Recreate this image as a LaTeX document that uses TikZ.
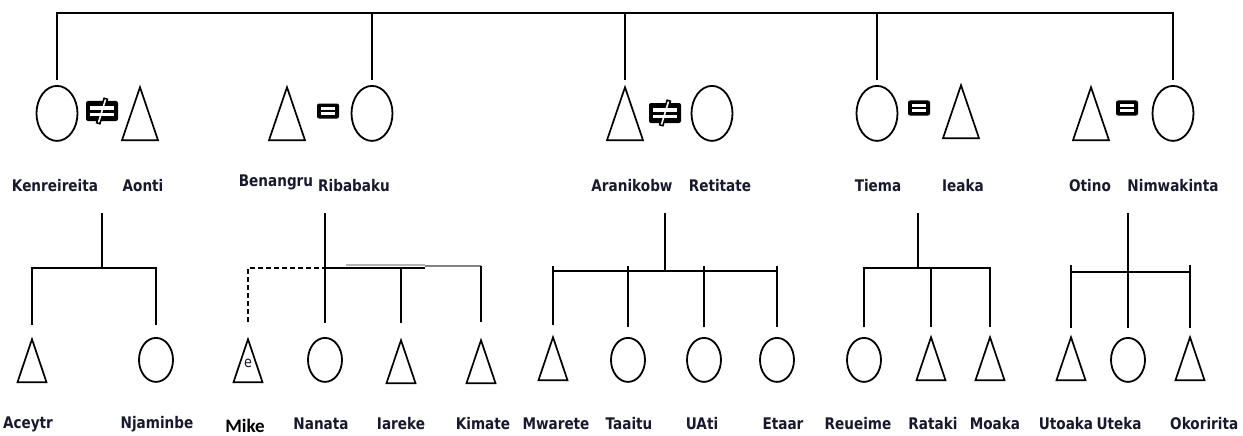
\documentclass[tikz,border=0pt]{standalone}
\usepackage{fontspec}
\setmainfont{DejaVu Sans}[FakeStretch=0.85]
\newfontfamily\mikefont{Carlito}
\usetikzlibrary{shapes.geometric}
\definecolor{nameink}{RGB}{25,25,45}
\definecolor{barshade}{RGB}{130,130,130}

\begin{document}
\begin{tikzpicture}[
  x=1pt, y=1pt,
  link/.style={line width=1.3pt, black},
  female/.style={draw, ellipse, line width=1.8pt, minimum width=41pt,
                 minimum height=55pt, inner sep=0pt, anchor=north},
  male/.style={draw, isosceles triangle, shape border rotate=90,
               isosceles triangle stretches, line width=1.7pt,
               minimum width=36pt, minimum height=53pt, inner sep=0pt,
               anchor=north},
  kidf/.style={female, minimum width=34pt, minimum height=44pt},
  kidm/.style={male, minimum width=29pt, minimum height=43pt},
  wed/.style={fill=black, rounded corners=2pt, minimum width=22pt,
              minimum height=15pt, inner sep=0pt},
  nowed/.style={wed, minimum width=32pt, minimum height=20pt},
  pname/.style={font=\bfseries\fontsize{16}{18}\selectfont, text=nameink,
               inner sep=0pt},
]
\useasboundingbox (0,0) rectangle (1243,-436);

%% Parents (top row)
\node[female] (kenr)  at (57,-85)   {};
\node[nowed]  (neqA)  at (102,-111) {};
\node[male]   (aonti) at (140,-85)  {};

\node[male]   (benan) at (287,-85)  {};
\node[wed]    (eqB)   at (328,-111) {};
\node[female] (ribab) at (372,-85)  {};

\node[male]   (arani) at (625,-85)  {};
\node[nowed]  (neqC)  at (665,-113) {};
\node[female] (retit) at (712,-85)  {};

\node[female] (tiema) at (877,-85)  {};
\node[wed]    (eqD)   at (919,-108) {};
\node[male]   (ieaka) at (961,-83)  {};

\node[male]   (otino) at (1091,-85) {};
\node[wed]    (eqE)   at (1127,-108) {};
\node[female] (nimwa) at (1173,-85) {};

%% Marriage marks
\foreach \m in {neqA,neqC}
  \draw[line width=5pt] ([shift={(-4,-13)}]\m.center) -- ([shift={(4,13)}]\m.center);
\foreach \m in {eqB,eqD,eqE} {
  \fill[white] ([shift={(-7,1)}]\m.center) rectangle ([shift={(7,4)}]\m.center);
  \fill[white] ([shift={(-7,-4)}]\m.center) rectangle ([shift={(7,-1)}]\m.center);
}
\foreach \m in {neqA,neqC} {
  \fill[white] ([shift={(-12,1.5)}]\m.center) rectangle ([shift={(12,5)}]\m.center);
  \fill[white] ([shift={(-12,-5)}]\m.center) rectangle ([shift={(12,-1.5)}]\m.center);
  \draw[white, line width=1.6pt] ([shift={(-3.5,-11.5)}]\m.center) -- ([shift={(3.5,11.5)}]\m.center);
}

%% Parent names
\node[pname] (lkenr)  at (55,-186)   {Kenreireita};
\node[pname] (laonti) at (143,-186)  {Aonti};
\node[pname] (lbenan) at (276,-182)  {Benangru};
\node[pname] (lribab) at (354,-186)  {Ribabaku};
\node[pname] (larani) at (632,-186)  {Aranikobw};
\node[pname] (lretit) at (720,-186)  {Retitate};
\node[pname] (ltiema) at (878,-186)  {Tiema};
\node[pname] (lieaka) at (963,-186)  {Ieaka};
\node[pname] (lotino) at (1090,-186) {Otino};
\node[pname] (lnimwa) at (1173,-186) {Nimwakinta};

%% Sibling bar over the parents
\draw[link] ([yshift=5pt]kenr.north) -- ++(0,67) -| ([yshift=5pt]nimwa.north);
\foreach \p in {ribab,arani,tiema}
  \draw[link] ([yshift=5pt]\p.north) -- ++(0,67);

%% Children (bottom row)
\node[kidm] (aceyt) at (32,-337)   {};
\node[kidf] (njami) at (156,-337)  {};
\node[kidm] (mike)  at (248,-337)  {};
\node[font=\fontsize{15}{15}\selectfont, text=nameink, inner sep=0pt]
  (mikee) at ([yshift=-26pt]mike.north) {e};
\node[kidf] (nanat) at (325,-337)  {};
\node[kidm] (iarek) at (401,-338)  {};
\node[kidm] (kimat) at (481,-338)  {};
\node[kidm] (mware) at (553,-335)  {};
\node[kidf] (taait) at (628,-337)  {};
\node[kidf] (uati)  at (704,-337)  {};
\node[kidf] (etaar) at (777,-337)  {};
\node[kidf] (reuei) at (864,-337)  {};
\node[kidm] (ratak) at (931,-335)  {};
\node[kidm] (moaka) at (990,-335)  {};
\node[kidm] (utoak) at (1071,-335) {};
\node[kidf] (uteka) at (1128,-337) {};
\node[kidm] (okori) at (1190,-335) {};

%% Children names
\node[pname] (laceyt) at (28,-424)   {Aceytr};
\node[pname] (lnjami) at (157,-424)  {Njaminbe};
\node[font=\mikefont\bfseries\fontsize{19}{19}\selectfont, inner sep=0pt] (lmike) at (245,-426) {Mike};
\node[pname] (lnanat) at (321,-424)  {Nanata};
\node[pname] (liarek) at (401,-424)  {Iareke};
\node[pname] (lkimat) at (483,-424)  {Kimate};
\node[pname] (lmware) at (556,-424)  {Mwarete};
\node[pname] (ltaait) at (629,-424)  {Taaitu};
\node[pname] (luati)  at (702,-424)  {UAti};
\node[pname] (letaar) at (783,-424)  {Etaar};
\node[pname] (lreuei) at (858,-424)  {Reueime};
\node[pname] (lratak) at (933,-424)  {Rataki};
\node[pname] (lmoaka) at (995,-424)  {Moaka};
\node[pname] (lutoak) at (1066,-424) {Utoaka};
\node[pname] (luteka) at (1119,-424) {Uteka};
\node[pname, anchor=west] (lokori) at (1170,-424) {Okoririta};

%% Descent lines
\coordinate (dA) at (102,-213);
\coordinate (dB) at (325,-213);
\coordinate (dC) at (665,-213);
\coordinate (dD) at (918,-213);
\coordinate (dE) at (1128,-213);

% Kenreireita / Aonti
\draw[link] (dA) -- ++(0,-55) coordinate (jA);
\draw[link] ([yshift=12pt]aceyt.north) |- (jA) -| ([yshift=12pt]njami.north);

% Benangru / Ribabaku
\draw[link] (dB) -- ([yshift=14pt]nanat.north);
\coordinate (jB) at (325,-268);
\draw[link, dash pattern=on 5pt off 3pt] ([yshift=15pt]mike.north) |- (jB);
\draw[barshade!60, line width=1.3pt] ([shift={(21,3)}]jB) -- ++(79,0);
\draw[link] (jB) -- ++(100,0);
\draw[barshade, line width=2.6pt] ([shift={(100,2)}]jB) -- ++(56,0);
\draw[link] ([yshift=15pt]iarek.north) -- (iarek.north |- jB);
\draw[link] ([yshift=16pt]kimat.north) -- ++(0,56);

% Aranikobw / Retitate
\draw[link] (dC) -- ++(0,-58) coordinate (jC);
\draw[link] (mware.north |- jC) -- (etaar.north |- jC);
\foreach \k in {mware,taait,uati,etaar}
  \draw[link] ([yshift=10pt]\k.north) -- ([yshift=5pt]\k.north |- jC);

% Tiema / Ieaka
\draw[link] (dD) -- ++(0,-55) coordinate (jD);
\draw[link] ([yshift=10pt]reuei.north) |- (jD) -| ([yshift=8pt]moaka.north);
\draw[link] ([yshift=8pt]ratak.north) -- (ratak.north |- jD);

% Otino / Nimwakinta
\draw[link] (dE) -- ([yshift=9pt]uteka.north);
\coordinate (jE) at (1128,-272);
\draw[link] (utoak.north |- jE) -- (okori.north |- jE);
\foreach \k in {utoak,okori}
  \draw[link] ([yshift=7pt]\k.north) -- ([yshift=7pt]\k.north |- jE);

\end{tikzpicture}
\end{document}
